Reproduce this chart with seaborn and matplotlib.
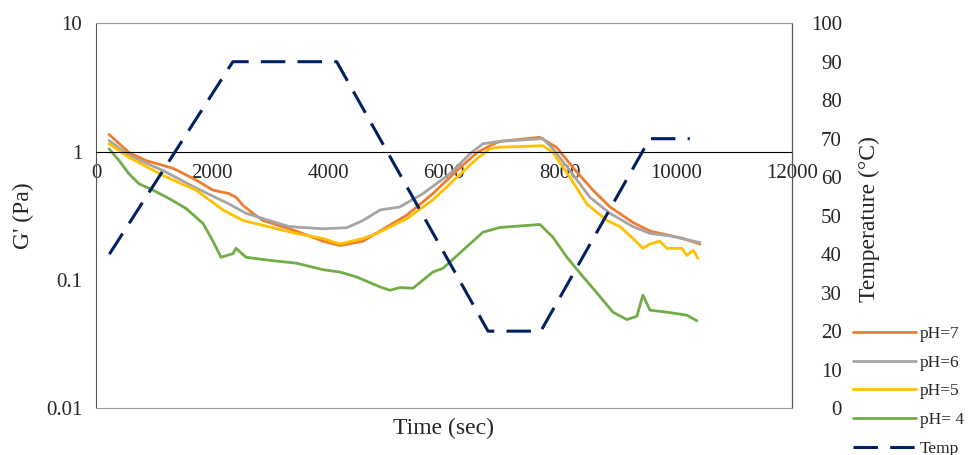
import numpy as np
import pandas as pd
import matplotlib
matplotlib.use("Agg")
import matplotlib.pyplot as plt
import seaborn as sns

# G' (Pa), time in seconds
t_ph7 = [224, 569, 862, 1328, 1724, 2017, 2293, 2414, 2534, 2707, 2879, 3448, 3914, 4207,
         4603, 4897, 5362, 5810, 6224, 6569, 6793, 6966, 7655, 7948, 8224, 8569, 8862,
         9259, 9552, 10121, 10414]
g_ph7 = [1.36, 0.98, 0.85, 0.74, 0.6, 0.5, 0.47, 0.44, 0.38, 0.33, 0.29, 0.24, 0.2, 0.185,
         0.2, 0.24, 0.32, 0.47, 0.71, 0.98, 1.11, 1.2, 1.29, 1.07, 0.75, 0.5, 0.37,
         0.28, 0.24, 0.21, 0.19]

t_ph6 = [224, 569, 1155, 1724, 2293, 2586, 3327, 3914, 4328, 4450, 4603, 4897, 5241, 5638,
         6103, 6448, 6672, 6966, 7707, 7879, 8172, 8517, 8862, 9259, 9552, 9900, 10414]
g_ph6 = [1.22, 0.93, 0.71, 0.52, 0.39, 0.33, 0.26, 0.25, 0.255, 0.27, 0.29, 0.35, 0.37, 0.47,
         0.67, 0.96, 1.15, 1.2, 1.26, 1.05, 0.71, 0.44, 0.33, 0.26, 0.23, 0.22, 0.195]

t_ph5 = [224, 569, 1155, 1724, 2190, 2534, 3448, 3914, 4207, 4603, 4845, 5362, 5810, 6224,
         6569, 6793, 6966, 7707, 7879, 8172, 8465, 8810, 9034, 9259, 9431, 9552, 9724,
         9845, 10103, 10189, 10300, 10379]
g_ph5 = [1.15, 0.9, 0.65, 0.5, 0.35, 0.29, 0.23, 0.21, 0.19, 0.21, 0.23, 0.3, 0.42, 0.63,
         0.88, 1.05, 1.08, 1.11, 0.98, 0.63, 0.39, 0.29, 0.26, 0.21, 0.176, 0.19, 0.2,
         0.176, 0.176, 0.155, 0.17, 0.147]

t_ph4 = [224, 397, 569, 741, 983, 1259, 1552, 1845, 2017, 2155, 2362, 2414, 2586, 2983,
         3448, 3914, 4207, 4500, 4897, 5069, 5241, 5465, 5810, 5983, 6327, 6672, 6966,
         7655, 7879, 8120, 8345, 8638, 8914, 9155, 9327, 9431, 9552, 9845, 10189, 10362]
g_ph4 = [1.05, 0.85, 0.67, 0.56, 0.5, 0.43, 0.36, 0.275, 0.2, 0.15, 0.16, 0.176, 0.15, 0.142,
         0.135, 0.12, 0.115, 0.105, 0.088, 0.083, 0.087, 0.086, 0.115, 0.123, 0.17, 0.235, 0.256,
         0.27, 0.215, 0.15, 0.113, 0.079, 0.056, 0.049, 0.052, 0.076, 0.058, 0.056, 0.053, 0.048]

# temperature programme (°C)
t_temp = [230, 2360, 4150, 6760, 7670, 9550, 10240]
temp = [40, 90, 90, 20, 20, 70, 70]

labels = ["pH=7", "pH=6", "pH=5", "pH= 4"]
colors = ["#ED7D31", "#A5A5A5", "#FFC000", "#70AD47"]

sns.set_style("white")
plt.rcParams["font.family"] = ["Liberation Serif", "DejaVu Serif"]

fig, ax = plt.subplots(figsize=(9.74, 4.55), dpi=100)
fig.subplots_adjust(left=0.0986, right=0.813, bottom=0.103, top=0.949)

series = [(t_ph7, g_ph7), (t_ph6, g_ph6), (t_ph5, g_ph5), (t_ph4, g_ph4)]
for (t, g), lab, c in zip(series, labels, colors):
    df = pd.DataFrame({"t": t, "g": g})
    sns.lineplot(data=df, x="t", y="g", ax=ax, color=c, lw=2.0, label=lab,
                 sort=False, estimator=None, legend=False)

ax.set_yscale("log")
ax.set_ylim(0.01, 10)
ax.set_xlim(0, 12000)
ax.set_yticks([0.01, 0.1, 1, 10])
ax.set_yticklabels(["0.01", "0.1", "1", "10"])
ax.minorticks_off()
ax.set_xticks(range(0, 12001, 2000))
ax.spines["bottom"].set_position(("data", 1))
ax.spines["bottom"].set_color("black")
ax.spines["left"].set_color("#555555")
ax.spines["top"].set_color("#999999")
ax.tick_params(axis="x", length=0, pad=9, labelsize=15)
ax.tick_params(axis="y", length=0, pad=10, labelsize=15)
ax.set_xlabel("Time (sec)", fontsize=17)
ax.xaxis.set_label_coords(0.5, -0.026)
ax.set_ylabel("G' (Pa)", fontsize=17)
ax.yaxis.set_label_coords(-0.089, 0.5)

ax2 = ax.twinx()
df_t = pd.DataFrame({"t": t_temp, "temp": temp})
sns.lineplot(data=df_t, x="t", y="temp", ax=ax2, color="#002060", lw=2.2,
             sort=False, estimator=None, legend=False)
ax2.lines[0].set_linestyle((0, (8, 4)))
ax2.set_ylim(0, 100)
ax2.set_yticks(range(0, 101, 10))
ax2.tick_params(axis="y", length=0, pad=36, labelsize=15)
for lab in ax2.get_yticklabels():
    lab.set_horizontalalignment("right")
ax2.set_ylabel("Temperature (°C)", fontsize=17, rotation=90)
ax2.yaxis.set_label_coords(1.096, 0.49)
ax2.spines["right"].set_color("#555555")
ax2.spines["bottom"].set_color("#999999")
ax2.spines["top"].set_color("#999999")
ax2.spines["left"].set_visible(False)

handles = ax.get_lines()[:4] + [ax2.lines[0]]
fig.legend(handles, labels + ["Temp"], loc="upper left",
           bbox_to_anchor=(853 / 974, 1 - 326 / 455), frameon=False,
           fontsize=12.5, handlelength=3.6, labelspacing=0.72, borderaxespad=0,
           borderpad=0, handletextpad=0.25)

fig.savefig("out.png", dpi=100)
